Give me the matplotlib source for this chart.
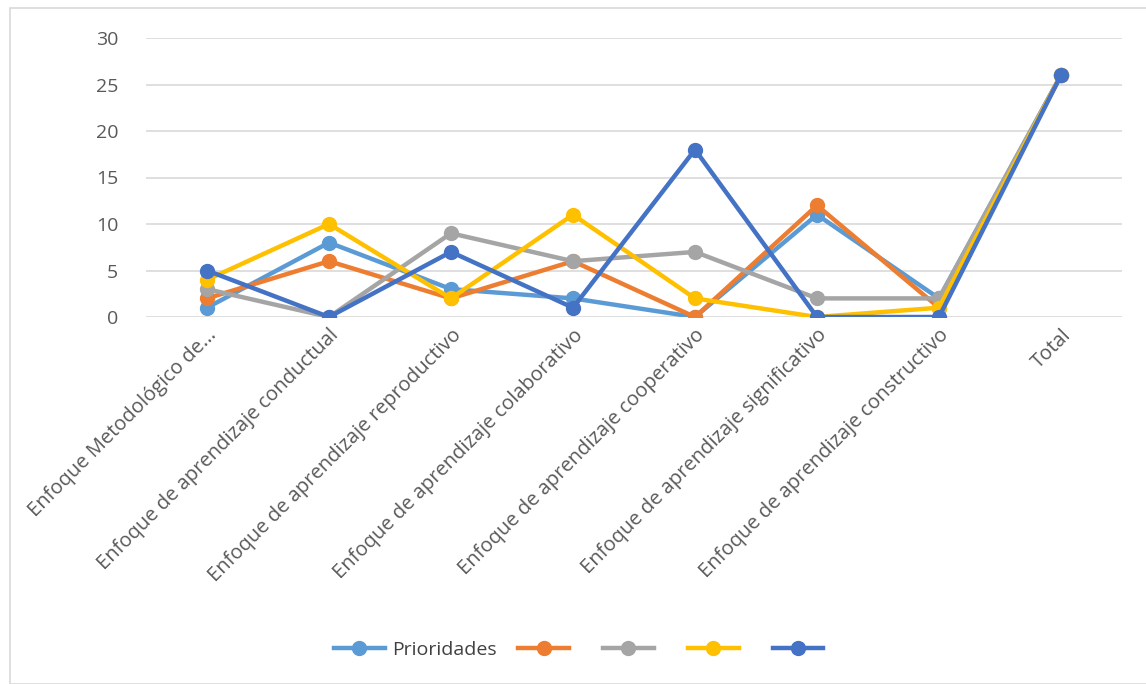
import matplotlib.pyplot as plt
from matplotlib.patches import Rectangle

categorias = ['Enfoque Metodológico de...',
              'Enfoque de aprendizaje conductual',
              'Enfoque de aprendizaje reproductivo',
              'Enfoque de aprendizaje colaborativo',
              'Enfoque de aprendizaje cooperativo',
              'Enfoque de aprendizaje significativo',
              'Enfoque de aprendizaje constructivo',
              'Total']

prioridades = [1, 8, 3, 2, 0, 11, 2, 26]
serie2 = [2, 6, 2, 6, 0, 12, 1, 26]
serie3 = [3, 0, 9, 6, 7, 2, 2, 26]
serie4 = [4, 10, 2, 11, 2, 0, 1, 26]
serie5 = [5, 0, 7, 1, 18, 0, 0, 26]

nombres = ['Prioridades', ' ', ' ', ' ', ' ']
colores = ['#5B9BD5', '#ED7D31', '#A5A5A5', '#FFC000', '#4472C4']

plt.rcParams['font.family'] = ['Open Sans', 'DejaVu Sans']

fig = plt.figure(figsize=(11.46, 6.84), dpi=100)
fig.patches.append(Rectangle((10 / 1146, 0), 1, 1 - 8 / 684, transform=fig.transFigure,
                             fill=False, edgecolor='#D9D9D9', linewidth=1.2))

ax = fig.add_axes([146 / 1146, 1 - 317 / 684, 976 / 1146, 279 / 684])

x = range(len(categorias))
series = [prioridades, serie2, serie3, serie4, serie5]
for vals, nombre, c in zip(series, nombres, colores):
    ax.plot(x, vals, color=c, linewidth=3.2, marker='o', markersize=10, label=nombre)

ax.set_xlim(-0.5, len(categorias) - 0.5)
ax.set_ylim(0, 30)
ax.set_yticks(range(0, 31, 5))
ax.grid(axis='y', color='#D9D9D9', linewidth=1.2)
ax.set_axisbelow(True)
for s in ax.spines.values():
    s.set_visible(False)
ax.tick_params(length=0, colors='#595959', labelsize=14)
ax.tick_params(axis='y', pad=20)
ax.tick_params(axis='x', labelsize=14.5, pad=6)
ax.set_xticks(list(x))
ax.set_xticklabels(categorias, rotation=45, ha='right', va='top', rotation_mode='anchor')

leg = ax.legend(loc='center', bbox_to_anchor=(0.45, (317 - 650) / 279), ncol=5,
                frameon=False, fontsize=14, handlelength=2.6, columnspacing=1.1,
                handletextpad=0.4, labelcolor='#404040')

fig.savefig('out.png', dpi=100)
